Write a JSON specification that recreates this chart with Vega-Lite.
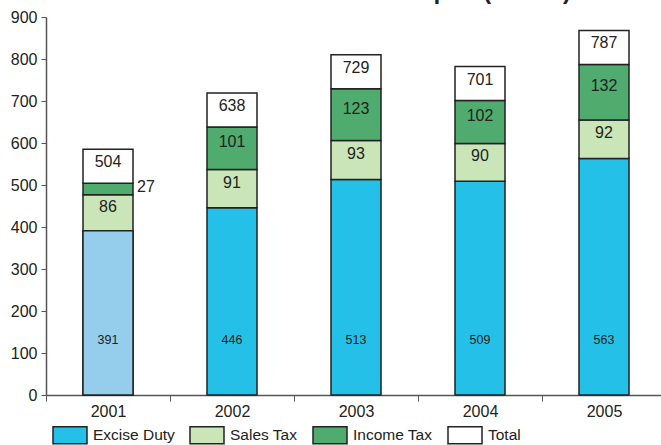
{
  "$schema": "https://vega.github.io/schema/vega-lite/v6.json",
  "width": 615,
  "height": 378,
  "autosize": {"type": "none"},
  "padding": {"left": 46, "top": 17, "right": 0, "bottom": 50},
  "background": "white",
  "title": {"text": "Tax Revenue to the Exchequer (Rs. bn)", "fontSize": 23.5, "fontWeight": "bold", "font": "Liberation Sans", "color": "#222222", "baseline": "alphabetic", "offset": 0, "dy": 13, "anchor": "middle"},
  "config": {
    "view": {"stroke": null},
    "text": {"font": "Liberation Sans"},
    "axis": {"labelFont": "Liberation Sans", "labelFontSize": 16, "labelColor": "#222222", "domainColor": "#555555", "tickColor": "#555555", "grid": false, "title": null},
    "legend": {"labelFont": "Liberation Sans", "labelFontSize": 15.5, "labelColor": "#222222"}
  },
  "datasets": {
    "typeOrder": [
      {"Type": "Excise Duty", "rank": 1},
      {"Type": "Sales Tax", "rank": 2},
      {"Type": "Income Tax", "rank": 3},
      {"Type": "Total", "rank": 4}
    ]
  },
  "data": {"values": [
    {"Year": "2001", "Type": "Excise Duty", "Value": 391},
    {"Year": "2001", "Type": "Sales Tax", "Value": 86},
    {"Year": "2001", "Type": "Income Tax", "Value": 27},
    {"Year": "2001", "Type": "Total", "Value": 504},
    {"Year": "2002", "Type": "Excise Duty", "Value": 446},
    {"Year": "2002", "Type": "Sales Tax", "Value": 91},
    {"Year": "2002", "Type": "Income Tax", "Value": 101},
    {"Year": "2002", "Type": "Total", "Value": 638},
    {"Year": "2003", "Type": "Excise Duty", "Value": 513},
    {"Year": "2003", "Type": "Sales Tax", "Value": 93},
    {"Year": "2003", "Type": "Income Tax", "Value": 123},
    {"Year": "2003", "Type": "Total", "Value": 729},
    {"Year": "2004", "Type": "Excise Duty", "Value": 509},
    {"Year": "2004", "Type": "Sales Tax", "Value": 90},
    {"Year": "2004", "Type": "Income Tax", "Value": 102},
    {"Year": "2004", "Type": "Total", "Value": 701},
    {"Year": "2005", "Type": "Excise Duty", "Value": 563},
    {"Year": "2005", "Type": "Sales Tax", "Value": 92},
    {"Year": "2005", "Type": "Income Tax", "Value": 132},
    {"Year": "2005", "Type": "Total", "Value": 787}
  ]},
  "transform": [
    {"lookup": "Type", "from": {"data": {"name": "typeOrder"}, "key": "Type", "fields": ["rank"]}}
  ],
  "encoding": {
    "x": {"field": "Year", "type": "ordinal", "scale": {"paddingInner": 0, "paddingOuter": 0, "range": [0, 620]}, "axis": {"labelAngle": 0, "tickBand": "extent", "tickSize": 6, "labelPadding": 2, "domainWidth": 1.5}}
  },
  "layer": [
    {
      "transform": [{"filter": "datum.Type != 'Total'"}],
      "mark": {"type": "bar", "width": 50, "stroke": "#222222", "strokeWidth": 1.5},
      "encoding": {
        "y": {"field": "Value", "type": "quantitative", "stack": "zero", "scale": {"domain": [0, 900], "nice": false}, "axis": {"values": [0, 100, 200, 300, 400, 500, 600, 700, 800, 900], "tickSize": 5, "labelPadding": 4, "domainWidth": 1.5}},
        "order": {"field": "rank", "type": "quantitative", "sort": "ascending"},
        "color": {"field": "Type", "type": "nominal", "sort": ["Excise Duty", "Sales Tax", "Income Tax", "Total"],
          "scale": {"domain": ["Excise Duty", "Sales Tax", "Income Tax", "Total"], "range": ["#25C0E7", "#CAE6B9", "#50AB6F", "#FFFFFF"]},
          "legend": {"orient": "none", "legendX": 6, "legendY": 400, "direction": "horizontal", "title": null, "symbolType": "M-1,-0.5H1V0.5H-1Z", "symbolSize": 1156, "symbolStrokeColor": "#222222", "symbolStrokeWidth": 1.5, "symbolOpacity": 1, "labelOffset": 5, "columnPadding": 12, "padding": 0, "labelBaseline": "middle"}}
      }
    },
    {
      "transform": [{"filter": "datum.Type == 'Excise Duty' && datum.Year == '2001'"}],
      "mark": {"type": "bar", "width": 50, "stroke": "#222222", "strokeWidth": 1.5, "fill": "#94CEEC"},
      "encoding": {"y": {"field": "Value", "type": "quantitative"}}
    },
    {
      "transform": [{"filter": "datum.Type == 'Total'"}],
      "mark": {"type": "bar", "width": 50, "stroke": "#222222", "strokeWidth": 1.5, "y2Offset": -34},
      "encoding": {
        "y": {"field": "Value", "type": "quantitative"},
        "y2": {"field": "Value"},
        "color": {"field": "Type", "type": "nominal"}
      }
    },
    {
      "transform": [{"filter": "datum.Type != 'Total'"}],
      "mark": {"type": "text", "fontSize": 16, "baseline": "middle", "dy": -6, "color": "#222222"},
      "encoding": {
        "y": {"field": "Value", "type": "quantitative", "stack": "zero", "bandPosition": 0.5},
        "order": {"field": "rank", "type": "quantitative", "sort": "ascending"},
        "detail": {"field": "Type", "type": "nominal"},
        "text": {"condition": {"test": "datum.Type == 'Excise Duty' || (datum.Type == 'Income Tax' && datum.Year == '2001')", "value": ""}, "field": "Value", "type": "quantitative"}
      }
    },
    {
      "transform": [
        {"filter": "datum.Type != 'Total'"},
        {"stack": "Value", "groupby": ["Year"], "sort": [{"field": "rank", "order": "ascending"}], "as": ["v0", "v1"]},
        {"filter": "datum.Type == 'Income Tax' && datum.Year == '2001'"}
      ],
      "mark": {"type": "text", "fontSize": 16, "baseline": "middle", "align": "left", "dx": 29, "dy": -8, "color": "#222222"},
      "encoding": {
        "y": {"field": "v0", "type": "quantitative"},
        "text": {"field": "Value", "type": "quantitative"}
      }
    },
    {
      "transform": [{"filter": "datum.Type == 'Excise Duty'"}],
      "mark": {"type": "text", "fontSize": 12.5, "baseline": "middle", "color": "#222222"},
      "encoding": {
        "y": {"datum": 130, "type": "quantitative"},
        "text": {"field": "Value", "type": "quantitative"}
      }
    },
    {
      "transform": [{"filter": "datum.Type == 'Total'"}],
      "mark": {"type": "text", "fontSize": 16, "baseline": "middle", "color": "#222222", "yOffset": -21},
      "encoding": {
        "y": {"field": "Value", "type": "quantitative"},
        "text": {"field": "Value", "type": "quantitative"}
      }
    }
  ]
}
